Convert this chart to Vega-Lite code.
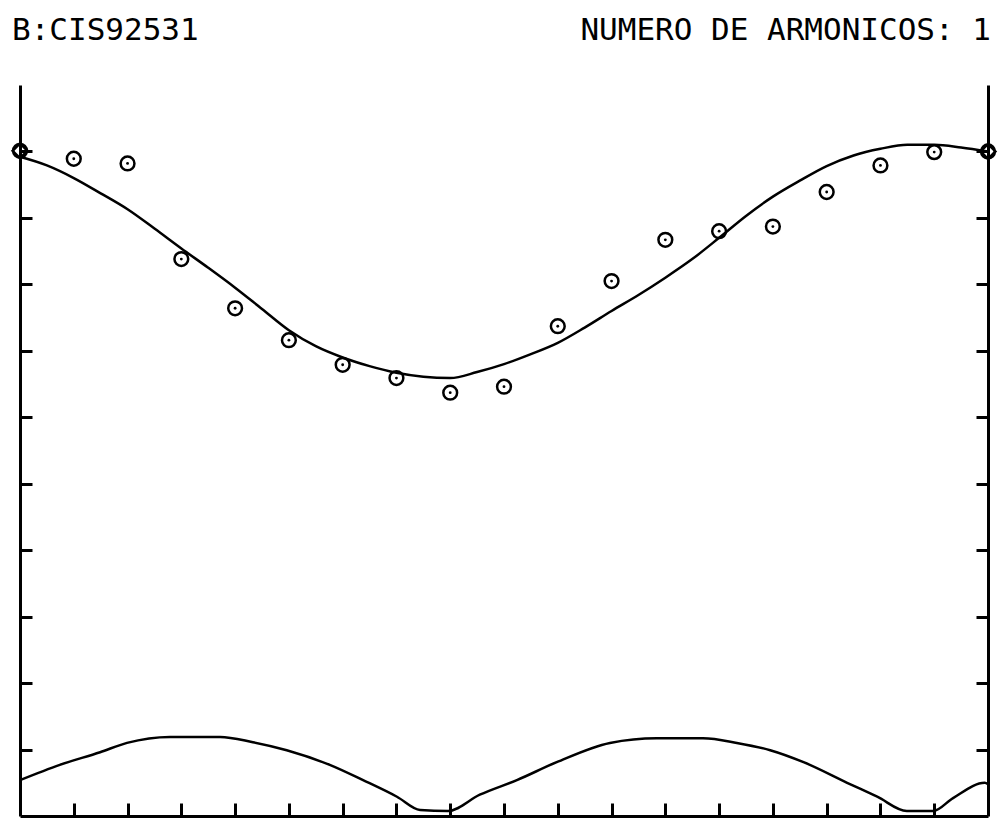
{
  "$schema": "https://vega.github.io/schema/vega-lite/v6.json",
  "width": 968,
  "height": 731,
  "autosize": {"type": "none"},
  "padding": {"left": 20, "top": 85, "right": 11, "bottom": 3},
  "background": "white",
  "config": {
    "view": {"stroke": null},
    "axis": {"grid": false, "labels": false, "title": null, "domainColor": "black", "tickColor": "black", "domainWidth": 3, "tickWidth": 3}
  },
  "datasets": {
    "fit": [
      {"x": 0, "y": 9.92}, {"x": 0.5, "y": 9.79}, {"x": 1, "y": 9.6}, {"x": 1.5, "y": 9.37},
      {"x": 2, "y": 9.13}, {"x": 2.5, "y": 8.84}, {"x": 3, "y": 8.54}, {"x": 3.5, "y": 8.25},
      {"x": 4, "y": 7.95}, {"x": 4.5, "y": 7.63}, {"x": 5, "y": 7.31}, {"x": 5.5, "y": 7.07},
      {"x": 6, "y": 6.9}, {"x": 6.5, "y": 6.77}, {"x": 7, "y": 6.67}, {"x": 7.5, "y": 6.61},
      {"x": 8, "y": 6.59}, {"x": 8.5, "y": 6.68}, {"x": 9, "y": 6.8}, {"x": 9.5, "y": 6.95},
      {"x": 10, "y": 7.12}, {"x": 10.5, "y": 7.35}, {"x": 11, "y": 7.6}, {"x": 11.5, "y": 7.84},
      {"x": 12, "y": 8.1}, {"x": 12.5, "y": 8.38}, {"x": 13, "y": 8.7}, {"x": 13.5, "y": 9.03},
      {"x": 14, "y": 9.32}, {"x": 14.5, "y": 9.56}, {"x": 15, "y": 9.78}, {"x": 15.5, "y": 9.94},
      {"x": 16, "y": 10.04}, {"x": 16.5, "y": 10.1}, {"x": 17, "y": 10.1}, {"x": 17.5, "y": 10.06},
      {"x": 18, "y": 10.0}
    ],
    "lower": [
      {"x": 0, "y": 0.54}, {"x": 0.74, "y": 0.77}, {"x": 1.49, "y": 0.96}, {"x": 1.99, "y": 1.1},
      {"x": 2.79, "y": 1.19}, {"x": 3.72, "y": 1.19}, {"x": 4.33, "y": 1.11}, {"x": 4.96, "y": 0.99},
      {"x": 5.76, "y": 0.77}, {"x": 6.38, "y": 0.54}, {"x": 7.01, "y": 0.29}, {"x": 7.44, "y": 0.09},
      {"x": 7.96, "y": 0.075}, {"x": 8.55, "y": 0.32}, {"x": 9.24, "y": 0.54}, {"x": 9.98, "y": 0.81},
      {"x": 10.97, "y": 1.1}, {"x": 11.84, "y": 1.17}, {"x": 12.7, "y": 1.17}, {"x": 13.33, "y": 1.1},
      {"x": 13.95, "y": 0.99}, {"x": 14.57, "y": 0.81}, {"x": 15.38, "y": 0.5}, {"x": 15.94, "y": 0.29},
      {"x": 16.49, "y": 0.075}, {"x": 16.98, "y": 0.075}, {"x": 17.35, "y": 0.27}, {"x": 17.94, "y": 0.5},
      {"x": 18, "y": 0.48}
    ],
    "obs": [
      {"x": 0, "y": 10.01, "kind": "end"}, {"x": 1, "y": 9.89, "kind": "mid"}, {"x": 2, "y": 9.82, "kind": "mid"},
      {"x": 3, "y": 8.38, "kind": "mid"}, {"x": 4, "y": 7.64, "kind": "mid"}, {"x": 5, "y": 7.16, "kind": "mid"},
      {"x": 6, "y": 6.79, "kind": "mid"}, {"x": 7, "y": 6.59, "kind": "mid"}, {"x": 8, "y": 6.37, "kind": "mid"},
      {"x": 9, "y": 6.46, "kind": "mid"}, {"x": 10, "y": 7.37, "kind": "mid"}, {"x": 11, "y": 8.05, "kind": "mid"},
      {"x": 12, "y": 8.67, "kind": "mid"}, {"x": 13, "y": 8.8, "kind": "mid"}, {"x": 14, "y": 8.87, "kind": "mid"},
      {"x": 15, "y": 9.39, "kind": "mid"}, {"x": 16, "y": 9.79, "kind": "mid"}, {"x": 17, "y": 9.99, "kind": "mid"},
      {"x": 18, "y": 10.0, "kind": "end"}
    ],
    "labels": [
      {"label": "B:CIS92531", "x": 0, "y": 11.81, "side": "left"},
      {"label": "NUMERO DE ARMONICOS: 1", "x": 18, "y": 11.81, "side": "right"}
    ]
  },
  "layer": [
    {
      "data": {"name": "fit"},
      "mark": {"type": "line", "color": "black", "strokeWidth": 2.5, "interpolate": "monotone"},
      "encoding": {
        "x": {"field": "x", "type": "quantitative", "scale": {"domain": [0, 18], "nice": false, "zero": false},
              "axis": {"orient": "bottom", "values": [1,2,3,4,5,6,7,8,9,10,11,12,13,14,15,16,17], "tickSize": -13}},
        "y": {"field": "y", "type": "quantitative", "scale": {"domain": [0, 11], "nice": false, "zero": false},
              "axis": {"orient": "left", "values": [1,2,3,4,5,6,7,8,9,10], "tickSize": -12}}
      }
    },
    {
      "data": {"name": "lower"},
      "mark": {"type": "line", "color": "black", "strokeWidth": 2.5, "interpolate": "monotone"},
      "encoding": {
        "x": {"field": "x", "type": "quantitative"},
        "y": {"field": "y", "type": "quantitative", "axis": {"orient": "right", "values": [1,2,3,4,5,6,7,8,9,10], "tickSize": -12}}
      }
    },
    {
      "data": {"name": "obs"},
      "mark": {"type": "point", "shape": "circle", "size": 190, "strokeWidth": 2.5, "color": "black", "filled": false, "opacity": 1},
      "encoding": {
        "x": {"field": "x", "type": "quantitative"},
        "y": {"field": "y", "type": "quantitative", "axis": null}
      }
    },
    {
      "data": {"name": "obs"},
      "transform": [{"filter": "datum.kind == 'mid'"}],
      "mark": {"type": "point", "shape": "circle", "size": 8, "color": "black", "filled": true, "opacity": 1},
      "encoding": {
        "x": {"field": "x", "type": "quantitative"},
        "y": {"field": "y", "type": "quantitative", "axis": null}
      }
    },
    {
      "data": {"name": "obs"},
      "transform": [{"filter": "datum.kind == 'end'"}],
      "mark": {"type": "point", "shape": "diamond", "size": 220, "strokeWidth": 2.5, "color": "black", "filled": false, "opacity": 1},
      "encoding": {
        "x": {"field": "x", "type": "quantitative"},
        "y": {"field": "y", "type": "quantitative", "axis": null}
      }
    },
    {
      "data": {"name": "labels"},
      "transform": [{"filter": "datum.side == 'left'"}],
      "mark": {"type": "text", "align": "left", "baseline": "middle", "font": "DejaVu Sans Mono", "fontSize": 31, "color": "black", "dx": -8},
      "encoding": {
        "x": {"field": "x", "type": "quantitative"},
        "y": {"field": "y", "type": "quantitative", "axis": null},
        "text": {"field": "label"}
      }
    },
    {
      "data": {"name": "labels"},
      "transform": [{"filter": "datum.side == 'right'"}],
      "mark": {"type": "text", "align": "right", "baseline": "middle", "font": "DejaVu Sans Mono", "fontSize": 31, "color": "black", "dx": 3},
      "encoding": {
        "x": {"field": "x", "type": "quantitative"},
        "y": {"field": "y", "type": "quantitative", "axis": null},
        "text": {"field": "label"}
      }
    }
  ],
  "resolve": {"axis": {"y": "independent"}}
}
